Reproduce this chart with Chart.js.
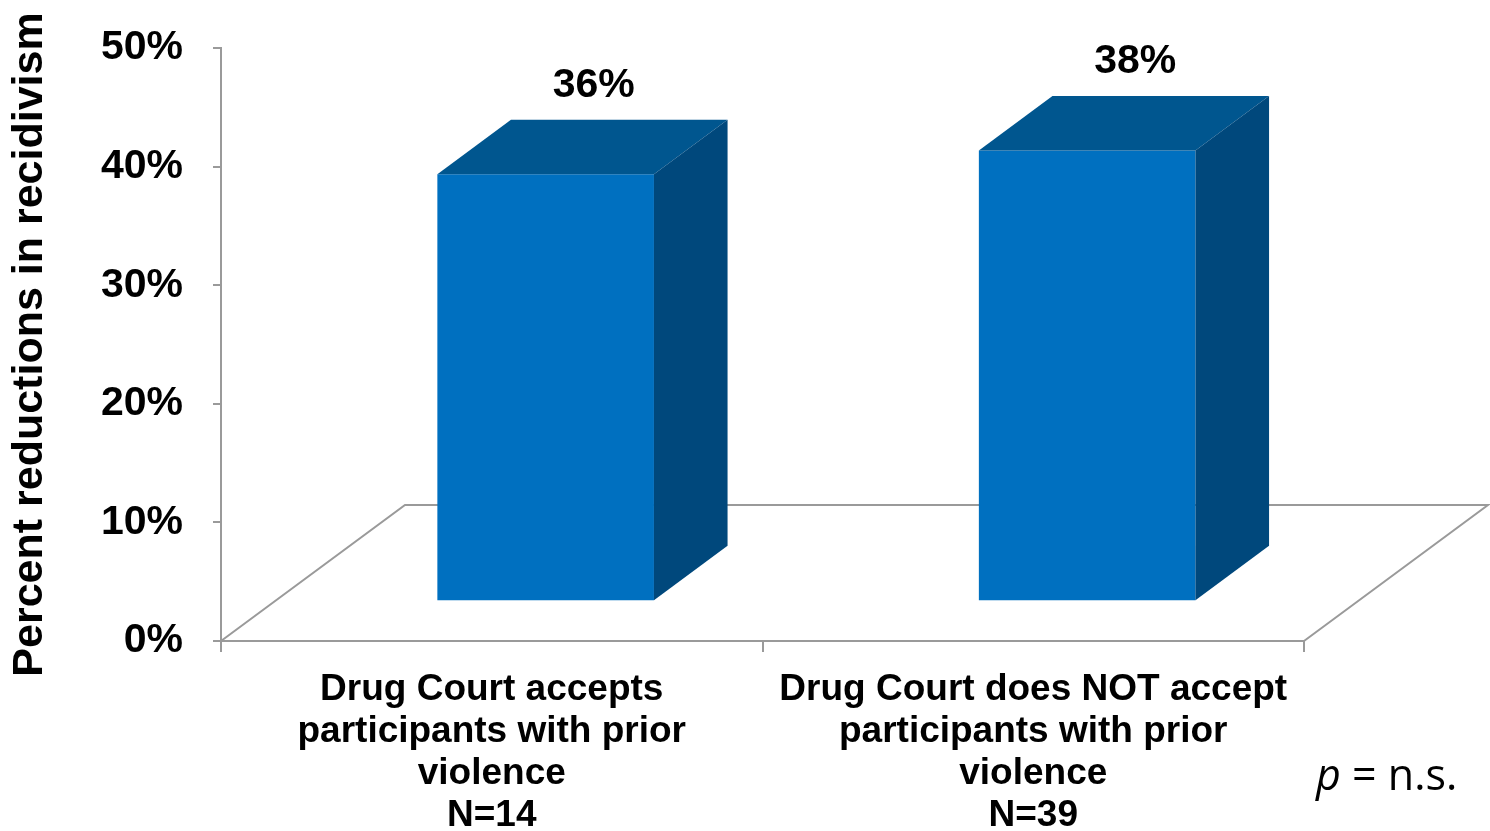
<!DOCTYPE html>
<html lang="en">
<head>
    <meta charset="UTF-8">
    <title>Percent reductions in recidivism</title>
    <script src="https://cdn.jsdelivr.net/npm/chart.js"></script>
    <style>
        html, body { margin: 0; padding: 0; background: #fff; }
        #wrap { width: 1490px; height: 831px; position: relative; }
    </style>
</head>
<body>
    <div id="wrap">
        <canvas id="grafico"></canvas>
    </div>
    <script>
        const categories = [
            ['Drug Court accepts', 'participants with prior', 'violence', 'N=14'],
            ['Drug Court does NOT accept', 'participants with prior', 'violence', 'N=39']
        ];
        const reductions = [36, 38];
        const valueLabels = ['36%', '38%'];
        const yMax = 50;
        const yStep = 10;
        const note = ['p', ' = n.s.'];

        // floor depth (3D look) and where the boxes sit inside it
        const DX = 184, DY = -136;
        const FRONT = 0.293, DEPTH = 0.40;

        const box3d = {
            id: 'box3d',
            beforeDatasetsDraw(chart) {
                const ctx = chart.ctx;
                const a = chart.chartArea;
                const y0 = chart.scales.y.getPixelForValue(0);
                ctx.save();
                ctx.strokeStyle = '#9a9a9a';
                ctx.lineWidth = 2;
                ctx.beginPath();
                ctx.moveTo(a.left, y0);
                ctx.lineTo(a.left + DX, y0 + DY);
                ctx.lineTo(a.right + DX, y0 + DY);
                ctx.lineTo(a.right, y0);
                ctx.stroke();
                ctx.restore();
                // front faces drawn by chart.js, shifted into the floor
                ctx.save();
                ctx.translate(DX * FRONT, DY * FRONT);
            },
            afterDatasetsDraw(chart) {
                const ctx = chart.ctx;
                ctx.restore();
                const meta = chart.getDatasetMeta(0);
                const fx = DX * FRONT, fy = DY * FRONT;
                const dx = DX * DEPTH, dy = DY * DEPTH;
                meta.data.forEach((bar, i) => {
                    const l = bar.x - bar.width / 2 + fx;
                    const r = bar.x + bar.width / 2 + fx;
                    const t = bar.y + fy;
                    const b = bar.base + fy;
                    // top
                    ctx.fillStyle = '#00568f';
                    ctx.beginPath();
                    ctx.moveTo(l, t);
                    ctx.lineTo(l + dx, t + dy);
                    ctx.lineTo(r + dx, t + dy);
                    ctx.lineTo(r, t);
                    ctx.closePath();
                    ctx.fill();
                    // side
                    ctx.fillStyle = '#00487c';
                    ctx.beginPath();
                    ctx.moveTo(r, t);
                    ctx.lineTo(r + dx, t + dy);
                    ctx.lineTo(r + dx, b + dy);
                    ctx.lineTo(r, b);
                    ctx.closePath();
                    ctx.fill();
                    // value label
                    ctx.fillStyle = '#000';
                    ctx.font = 'bold 41px "Liberation Sans", Arial, sans-serif';
                    ctx.textAlign = 'center';
                    ctx.textBaseline = 'middle';
                    ctx.fillText(valueLabels[i], bar.x + fx + 48, t + dy - 34);
                });
                // p = n.s.
                ctx.textAlign = 'left';
                ctx.textBaseline = 'alphabetic';
                ctx.font = 'italic 43px "Open Sans", "Noto Sans", sans-serif';
                ctx.fillText(note[0], 1316, 790);
                const w = ctx.measureText(note[0]).width;
                ctx.font = '43px "Open Sans", "Noto Sans", sans-serif';
                ctx.fillText(note[1], 1316 + w, 790);
            }
        };

        function criarGrafico() {
            const ctx = document.getElementById('grafico').getContext('2d');
            new Chart(ctx, {
                type: 'bar',
                data: {
                    labels: categories,
                    datasets: [{
                        data: reductions,
                        backgroundColor: '#0070c0',
                        borderWidth: 0,
                        barPercentage: 0.4,
                        categoryPercentage: 1
                    }]
                },
                options: {
                    responsive: true,
                    maintainAspectRatio: false,
                    animation: false,
                    layout: { padding: { top: 48, right: 186, left: 0, bottom: 0 } },
                    plugins: {
                        legend: { display: false },
                        tooltip: { enabled: false }
                    },
                    scales: {
                        x: {
                            grid: { drawOnChartArea: false, drawTicks: true, tickLength: 11, color: '#9a9a9a', lineWidth: 2 },
                            border: { display: true, color: '#9a9a9a', width: 2 },
                            ticks: {
                                color: '#000',
                                padding: 17,
                                maxRotation: 0,
                                autoSkip: false,
                                font: { family: '"Liberation Sans", Arial, sans-serif', size: 37, weight: 'bold', lineHeight: 1.135 }
                            },
                            afterFit(scale) { scale.height = 190; }
                        },
                        y: {
                            min: 0,
                            max: yMax,
                            grid: { drawOnChartArea: false, drawTicks: true, tickLength: 8, color: '#9a9a9a', lineWidth: 2 },
                            border: { display: true, color: '#9a9a9a', width: 2 },
                            ticks: {
                                stepSize: yStep,
                                color: '#000',
                                padding: 30,
                                font: { family: '"Liberation Sans", Arial, sans-serif', size: 41, weight: 'bold' },
                                callback: v => v + '%'
                            },
                            title: {
                                display: true,
                                text: 'Percent reductions in recidivism',
                                color: '#000',
                                padding: { top: 4, bottom: 0 },
                                font: { family: '"Liberation Sans", Arial, sans-serif', size: 43, weight: 'bold' }
                            },
                            afterFit(scale) {
                                scale.width = 221;
                                scale.paddingTop = 0;
                                scale.paddingBottom = 0;
                            }
                        }
                    }
                },
                plugins: [box3d]
            });
        }

        window.onload = criarGrafico;
    </script>
</body>
</html>
